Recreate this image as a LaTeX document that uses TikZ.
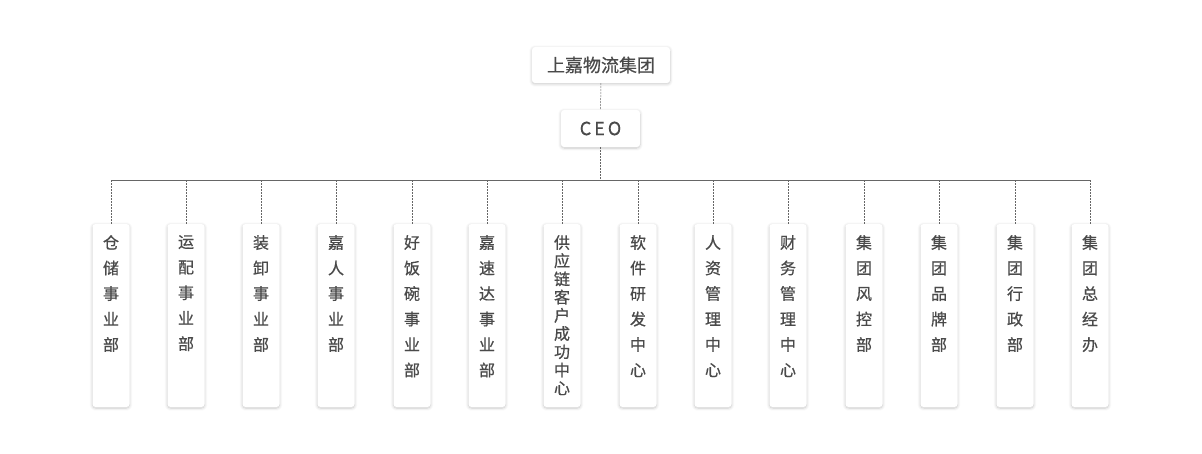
\documentclass[tikz,border=0pt]{standalone}
\usepackage{fontspec}
\newfontfamily\cjk[FakeBold=0.6]{Noto Sans CJK SC}
\usetikzlibrary{shadows.blur}
\definecolor{txtgray}{HTML}{4a4a4a}
\tikzset{
    box/.style={draw=none, fill=white, rounded corners=3pt,
        blur shadow={shadow blur steps=8, shadow blur radius=3pt, shadow xshift=0pt, shadow yshift=-1pt, shadow opacity=22}},
    link/.style={draw=gray!80!black, dashed, dash pattern=on 2pt off 1pt, line width=0.5pt},
    vtext/.style={font=\cjk\fontsize{16}{25.5}\selectfont, text=txtgray, align=center, anchor=north, inner sep=0pt}
}
\begin{document}
\begin{tikzpicture}[x=1pt, y=-1pt]
    \useasboundingbox (0, 0) rectangle (1202, 454);

    \node[box, minimum width=138pt, minimum height=36pt, font=\cjk\fontsize{18}{20}\selectfont, text=txtgray] (group) at (601, 65) {上嘉物流集团};
    \node[box, minimum width=79pt, minimum height=37pt, font=\cjk\fontsize{18}{20}\selectfont, text=txtgray] (ceo) at (600.5, 128.5) {C\,E\,O};
    \coordinate (bus) at (600.5, 180);

    \draw[link] (group) -- (ceo);
    \draw[link] (ceo) -- (bus);

    \foreach \x/\name/\txt in {
        111/d1/仓\\储\\事\\业\\部,
        186/d2/运\\配\\事\\业\\部,
        261/d3/装\\卸\\事\\业\\部,
        336/d4/嘉\\人\\事\\业\\部,
        412/d5/好\\饭\\碗\\事\\业\\部,
        487/d6/嘉\\速\\达\\事\\业\\部,
        638/d8/软\\件\\研\\发\\中\\心,
        713/d9/人\\资\\管\\理\\中\\心,
        788/d10/财\\务\\管\\理\\中\\心,
        864/d11/集\\团\\风\\控\\部,
        939/d12/集\\团\\品\\牌\\部,
        1015/d13/集\\团\\行\\政\\部,
        1090/d14/集\\团\\总\\经\\办} {
        \node[box, minimum width=37pt, minimum height=183pt] (\name) at (\x, 315.5) {};
        \node[vtext] at (\x, 235) {\txt};
        \draw[link] (\name.north) |- (bus);
    }
    % the long one sits tighter
    \node[box, minimum width=37pt, minimum height=183pt] (d7) at (562, 315.5) {};
    \node[vtext, font=\cjk\fontsize{16}{18.2}\selectfont] at (562, 235) {供\\应\\链\\客\\户\\成\\功\\中\\心};
    \draw[link] (d7.north) |- (bus);
    \draw[link] (d1.north |- bus) -- (d14.north |- bus);
\end{tikzpicture}
\end{document}
